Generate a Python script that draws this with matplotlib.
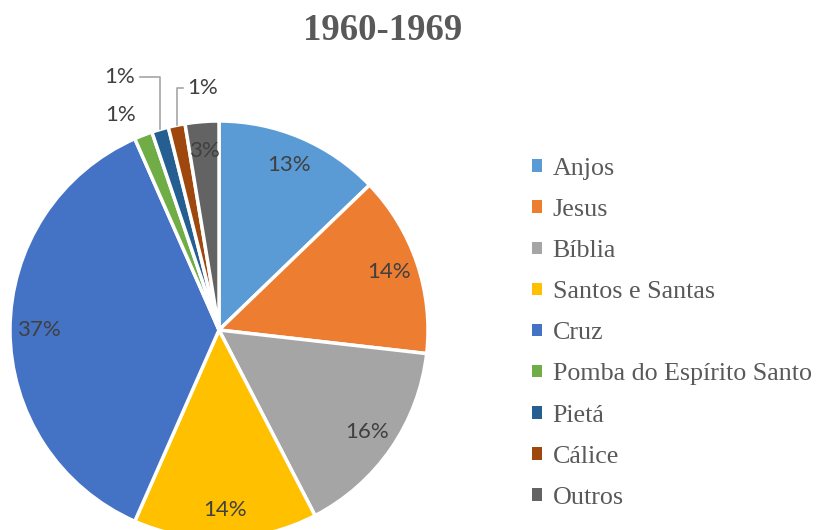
import numpy as np
import matplotlib
matplotlib.use('Agg')
import matplotlib.pyplot as plt
from matplotlib.patches import Patch

# data (percent)
categories = ['Anjos', 'Jesus', 'Bíblia', 'Santos e Santas', 'Cruz',
              'Pomba do Espírito Santo', 'Pietá', 'Cálice', 'Outros']
shares = [12.8, 14.0, 15.6, 14.2, 36.8, 1.4, 1.3, 1.3, 2.6]
colors = ['#5B9BD5', '#ED7D31', '#A5A5A5', '#FFC000', '#4472C4',
          '#70AD47', '#255E91', '#9E480E', '#636363']
title = '1960-1969'

W, H = 818, 530
cx, cy, R = 219, 330, 209   # pie centre / radius in pixels

fig = plt.figure(figsize=(W / 100, H / 100), dpi=100)
ax = fig.add_axes([0, 0, 1, 1])


def fmt(p):
    return '%.0f%%' % p if p >= 2 else ''


wedges, texts, autotexts = ax.pie(
    shares, colors=colors, startangle=90, counterclock=False,
    radius=1, autopct=fmt, pctdistance=0.86,
    wedgeprops=dict(edgecolor='white', linewidth=2.5))
for t in autotexts:
    t.set_fontfamily('Lato')
    t.set_fontsize(16)
    t.set_color('#404040')

# small slices: labels outside, two with leader lines
lbl = dict(fontfamily='Lato', fontsize=16, color='#404040', va='center')
small = {5: (-0.47, 1.03, None), 6: (-0.40, 1.21, 'right'), 7: (-0.15, 1.16, 'left')}
for i, (tx, ty, side) in small.items():
    w = wedges[i]
    a = np.deg2rad((w.theta1 + w.theta2) / 2)
    ex, ey = np.cos(a), np.sin(a)
    pct = '%.0f%%' % shares[i]
    if side is None:
        ax.text(tx, ty, pct, ha='center', **lbl)
        continue
    gap = 0.02 if side == 'right' else -0.02
    ax.plot([ex, ex, tx + gap], [ey, ty, ty], color='#A6A6A6', lw=1.2)
    ax.text(tx, ty, pct, ha=side, **lbl)

ax.set_xlim(-cx / R, (W - cx) / R)
ax.set_ylim(-(H - cy) / R, cy / R)
ax.set_aspect('equal')
ax.axis('off')

fig.text(383 / W, 1 - 31 / H, title, ha='center', va='center',
         fontfamily='Liberation Serif', fontweight='bold', fontsize=26.5,
         color='#595959')

handles = [Patch(facecolor=c, edgecolor='none') for c in colors]
leg = fig.legend(handles, categories, loc='upper left',
                 bbox_to_anchor=(532 / W, 1 - 158 / H), frameon=False,
                 prop=dict(family='Liberation Serif', size=18.7),
                 handlelength=0.37, handleheight=0.37, handletextpad=0.42,
                 labelspacing=0.735, borderpad=0, borderaxespad=0)
for t in leg.get_texts():
    t.set_color('#595959')

fig.savefig('out.png', dpi=100)
